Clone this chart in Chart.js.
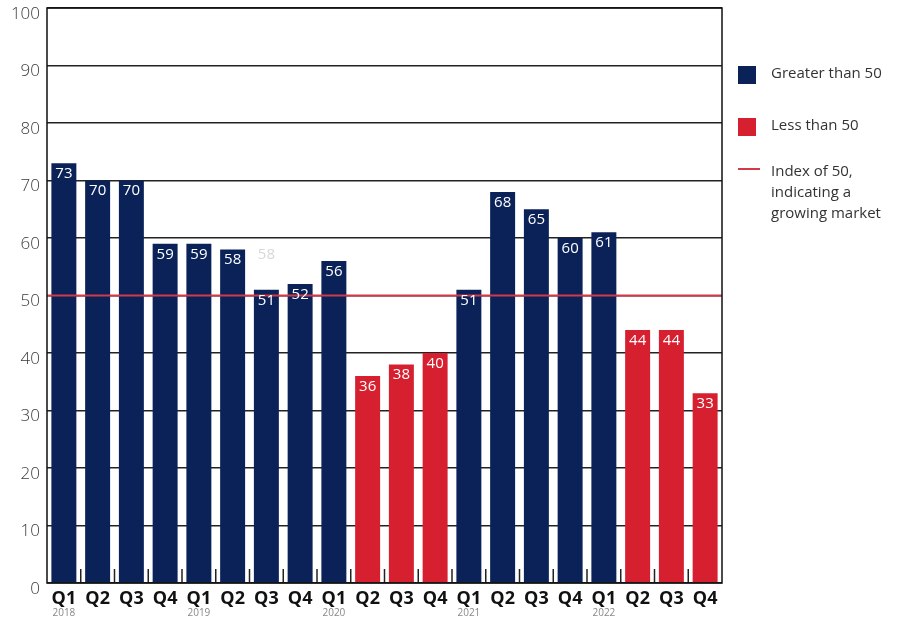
<!DOCTYPE html>
<html><head><meta charset="utf-8">
<script src="https://cdn.jsdelivr.net/npm/chart.js@4.4.0/dist/chart.umd.min.js"></script>
<style>
html,body{margin:0;padding:0;background:#fff;}
#wrap{position:relative;width:917px;height:620px;}
#legend{position:absolute;left:738px;top:60px;font-family:"Open Sans","Noto Sans",sans-serif;font-size:15px;color:#333;}
.li{position:absolute;left:0;white-space:nowrap;}
.sw{position:absolute;left:0;width:18px;height:18px;}
.tx{position:absolute;left:33px;line-height:21px;}
</style></head><body>
<div id="wrap"><canvas id="c" width="917" height="620"></canvas>
<div id="legend"></div></div>
<script>
const quarters = ["Q1","Q2","Q3","Q4","Q1","Q2","Q3","Q4","Q1","Q2","Q3","Q4","Q1","Q2","Q3","Q4","Q1","Q2","Q3","Q4"];
const years = ["2018","","","","2019","","","","2020","","","","2021","","","","2022","","",""];
const values = [73,70,70,59,59,58,51,52,56,36,38,40,51,68,65,60,61,44,44,33];
const ghostLabels = ["","","","","","","58","","","","","","","","","","","","",""];
const THRESHOLD = 50;
const legendItems = [
  {type:"box", color:"#0b2259", text:"Greater than 50"},
  {type:"box", color:"#d7202f", text:"Less than 50"},
  {type:"line", color:"#d23a4a", text:"Index of 50,<br>indicating a<br>growing market"}
];
const NAVY="#0b2259", RED="#d7202f", LINE="#d23a4a";
const FONT='"Open Sans","Noto Sans",sans-serif';

// legend
const lg=document.getElementById('legend');
const tops=[0,52,100];
legendItems.forEach((it,i)=>{
  const d=document.createElement('div');d.className='li';d.style.top=tops[i]+'px';
  if(it.type==='box'){d.innerHTML='<div class="sw" style="top:6px;background:'+it.color+'"></div><div class="tx" style="top:2px">'+it.text+'</div>';}
  else{d.innerHTML='<div class="sw" style="top:8px;height:2px;width:22px;background:'+it.color+'"></div><div class="tx" style="top:0px">'+it.text+'</div>';}
  lg.appendChild(d);
});

const frame={id:'frame',
  afterDraw(chart){
    const {ctx,chartArea:a,scales:{x,y}}=chart;
    ctx.save();
    const yy=y.getPixelForValue(THRESHOLD);
    ctx.strokeStyle=LINE;ctx.lineWidth=2;
    ctx.beginPath();ctx.moveTo(a.left,yy);ctx.lineTo(a.right,yy);ctx.stroke();
    ctx.strokeStyle="#222";ctx.lineWidth=1.5;
    for(let i=1;i<values.length;i++){
      const px=(x.getPixelForValue(i-1)+x.getPixelForValue(i))/2;
      ctx.beginPath();ctx.moveTo(px,a.bottom);ctx.lineTo(px,a.bottom-14);ctx.stroke();
    }
    ctx.strokeStyle="#111";ctx.lineWidth=1.5;
    ctx.strokeRect(a.left,a.top,a.right-a.left,a.bottom-a.top);
    const meta=chart.getDatasetMeta(0);
    ctx.font='15px '+FONT;
    ctx.textAlign='center';ctx.textBaseline='top';
    meta.data.forEach((b,i)=>{
      ctx.fillStyle='#fff';
      ctx.fillText(String(values[i]),b.x,b.y+3);
      if(ghostLabels[i]){
        ctx.fillStyle='#d8d8d8';
        ctx.fillText(ghostLabels[i],b.x,y.getPixelForValue(58)-2);
      }
    });
    ctx.font='10px '+FONT;ctx.fillStyle='#888';
    years.forEach((yr,i)=>{ if(yr) ctx.fillText(yr,x.getPixelForValue(i),a.bottom+25); });
    ctx.restore();
  }};

new Chart(document.getElementById('c'),{
  type:'bar',
  data:{labels:quarters,datasets:[{data:values,
    backgroundColor:values.map(v=>v>THRESHOLD?NAVY:RED),
    barPercentage:0.74,categoryPercentage:1}]},
  options:{responsive:false,animation:false,
    layout:{padding:{left:0,right:195,top:8,bottom:0}},
    plugins:{legend:{display:false},tooltip:{enabled:false}},
    scales:{
      x:{position:'bottom',grid:{display:false},border:{display:false},
        ticks:{color:'#111',font:{family:FONT,size:18,weight:'bold'},padding:-3,maxRotation:0,autoSkip:false},
        afterFit(s){s.height=37;}},
      y:{min:0,max:100,grid:{color:'#222',lineWidth:1.5,drawTicks:false},border:{display:false},
        ticks:{stepSize:10,color:'#3a3a3a',font:{family:FONT,size:17,weight:'300'},padding:7,labelOffset:6},
        afterFit(s){s.width=47;s.paddingTop=0;s.paddingBottom=0;}}
    }},
  plugins:[frame]
});
</script></body></html>
